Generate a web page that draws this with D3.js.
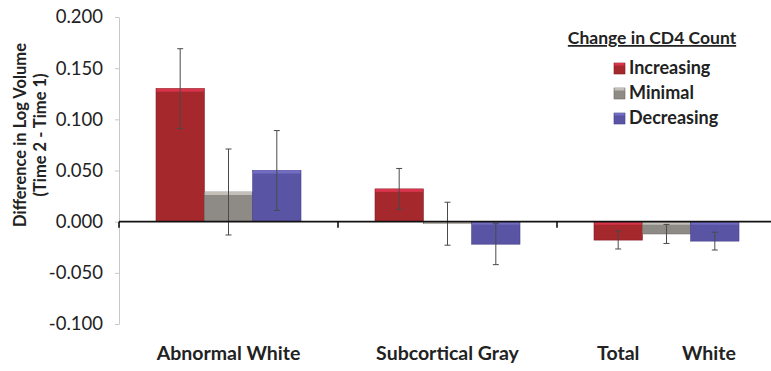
<!DOCTYPE html>
<html>
<head>
<meta charset="utf-8">
<script src="https://cdn.jsdelivr.net/npm/d3@7"></script>
<style>
  body { margin: 0; background: #fff; }
  svg text { font-family: Lato, "Noto Sans", sans-serif; fill: #222; }
</style>
</head>
<body>
<div id="graph"></div>
<script>
// chart data
const categories = ["Abnormal White", "Subcortical Gray", "Total         White"];
const seriesNames = ["Increasing", "Minimal", "Decreasing"];
const increasing = [0.130, 0.032, -0.018];
const minimal = [0.029, -0.002, -0.012];
const decreasing = [0.050, -0.022, -0.019];
const increasingErr = [0.039, 0.020, 0.0087];
const minimalErr = [0.042, 0.021, 0.0093];
const decreasingErr = [0.039, 0.020, 0.0087];
const yTicks = [-0.1, -0.05, 0, 0.05, 0.1, 0.15, 0.2];

const svgWidth = 771;
const svgHeight = 371;

const seriesValues = [increasing, minimal, decreasing];
const seriesErrs = [increasingErr, minimalErr, decreasingErr];
const fills = ["#a5282d", "#8e8a85", "#5a54a5"];
const tops = ["#d8344b", "#c4c0b9", "#726cc2"];
const edges = ["#7f1c20", "#6e6a66", "#433e88"];

const svg = d3.select('#graph').append('svg')
	.attr('width', svgWidth)
	.attr('height', svgHeight);

const yScale = d3.scaleLinear()
	.domain([-0.1, 0.2])
	.range([324, 17]);

const xScale = d3.scaleBand()
	.domain(categories)
	.range([119, 776])
	.paddingInner(0.338)
	.paddingOuter(0.169);

const xSub = d3.scaleBand()
	.domain(seriesNames)
	.range([0, xScale.bandwidth()]);

// y axis (light gray)
const yAxis = d3.axisLeft(yScale)
	.tickValues(yTicks)
	.tickFormat(d => d3.format('.3f')(d).replace('\u2212', '-'))
	.tickSize(4)
	.tickSizeOuter(0);

const yG = svg.append('g')
	.attr('transform', 'translate(119, 0)')
	.call(yAxis);
yG.select('.domain').attr('stroke', '#c8c8c8');
yG.selectAll('.tick line').attr('stroke', '#c8c8c8');
yG.selectAll('.tick text')
	.attr('x', -16)
	.style('font-size', '18.5px')
	.style('fill', '#222');

// axis title
const title = svg.append('text')
	.attr('transform', 'translate(26, 135) rotate(-90)')
	.attr('text-anchor', 'middle')
	.style('font-size', '16.5px')
	.style('font-weight', 'bold');
title.append('tspan').attr('x', 0).attr('dy', 0).text('Difference in Log Volume');
title.append('tspan').attr('x', 0).attr('dy', 20).text('(Time 2 - Time 1)');

// bars
const rows = [];
categories.forEach((c, i) => {
	seriesNames.forEach((s, j) => {
		rows.push({cat: c, s: s, j: j, v: seriesValues[j][i], e: seriesErrs[j][i]});
	});
});

const bars = svg.append('g').selectAll('g').data(rows).enter().append('g')
	.attr('transform', d => `translate(${xScale(d.cat) + xSub(d.s)}, 0)`);

bars.append('rect')
	.attr('y', d => yScale(Math.max(0, d.v)))
	.attr('width', xSub.bandwidth())
	.attr('height', d => Math.abs(yScale(d.v) - yScale(0)))
	.attr('fill', d => fills[d.j])
	.attr('stroke', d => edges[d.j])
	.attr('stroke-width', 0.6);

bars.append('rect')
	.attr('x', 0.5)
	.attr('y', d => yScale(Math.max(0, d.v)))
	.attr('width', xSub.bandwidth() - 1)
	.attr('height', d => Math.min(3, Math.abs(yScale(d.v) - yScale(0))))
	.attr('fill', d => tops[d.j]);

// x axis line
svg.append('line')
	.attr('x1', 119).attr('x2', svgWidth)
	.attr('y1', yScale(0)).attr('y2', yScale(0))
	.attr('stroke', '#111')
	.attr('stroke-width', 1.8);

// category separators
const seps = categories.map(c => xScale(c) - xScale.step() * xScale.paddingInner() / 2);
svg.append('g').selectAll('line').data(seps).enter().append('line')
	.attr('x1', d => d).attr('x2', d => d)
	.attr('y1', yScale(0)).attr('y2', yScale(0) + 6)
	.attr('stroke', '#111')
	.attr('stroke-width', 1.6);

// error bars
const eb = bars.append('g')
	.attr('stroke', '#4a4a4a')
	.attr('stroke-width', 1);
const cx = xSub.bandwidth() / 2;
eb.append('line')
	.attr('x1', cx).attr('x2', cx)
	.attr('y1', d => yScale(d.v + d.e))
	.attr('y2', d => yScale(d.v - d.e));
eb.append('line')
	.attr('x1', cx - 3).attr('x2', cx + 3)
	.attr('y1', d => yScale(d.v + d.e))
	.attr('y2', d => yScale(d.v + d.e));
eb.append('line')
	.attr('x1', cx - 3).attr('x2', cx + 3)
	.attr('y1', d => yScale(d.v - d.e))
	.attr('y2', d => yScale(d.v - d.e));

// category labels
svg.append('g').selectAll('text').data(categories).enter().append('text')
	.attr('x', d => xScale(d) + xScale.bandwidth() / 2)
	.attr('y', 360)
	.attr('text-anchor', 'middle')
	.style('white-space', 'pre')
	.style('font-size', '19.5px')
	.style('font-weight', 'bold')
	.text(d => d);

// legend
svg.append('text')
	.attr('x', 652)
	.attr('y', 44)
	.attr('text-anchor', 'middle')
	.style('font-size', '17.5px')
	.style('font-weight', 'bold')
	.style('text-decoration', 'underline')
	.text('Change in CD4 Count');

const leg = svg.append('g').selectAll('g').data(seriesNames).enter().append('g')
	.attr('transform', (d, i) => `translate(614, ${68 + i * 25})`);
leg.append('rect')
	.attr('x', 0).attr('y', -5)
	.attr('width', 11).attr('height', 11)
	.attr('fill', (d, i) => fills[i])
	.attr('stroke', (d, i) => edges[i])
	.attr('stroke-width', 0.6);
leg.append('rect')
	.attr('x', 0.5).attr('y', -5)
	.attr('width', 10).attr('height', 2.5)
	.attr('fill', (d, i) => tops[i]);
leg.append('text')
	.attr('x', 15)
	.attr('y', 6)
	.style('font-size', '18px')
	.style('font-weight', 'bold')
	.text(d => d);
</script>
</body>
</html>
